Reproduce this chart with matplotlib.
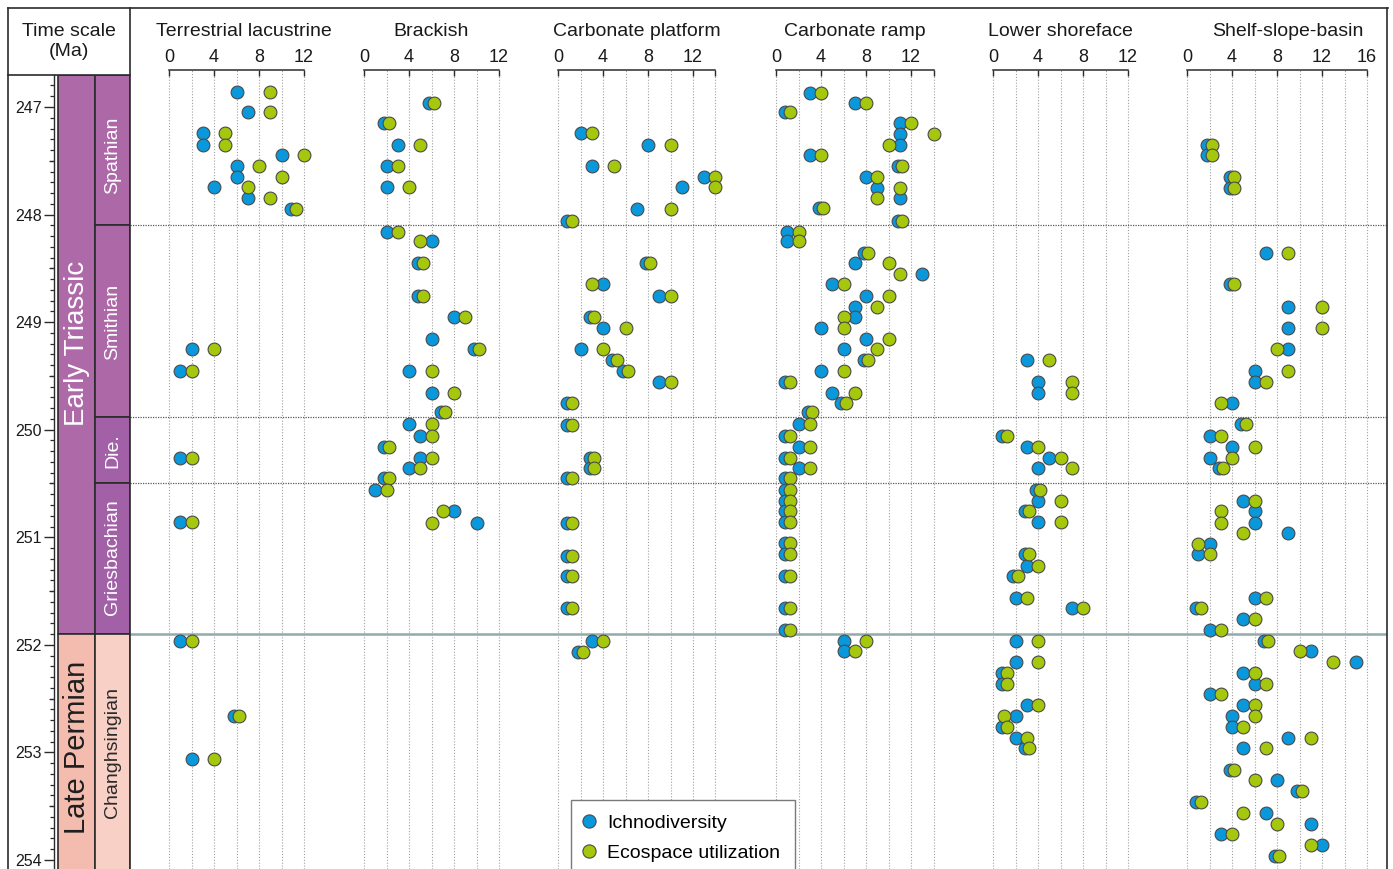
import numpy as np
import matplotlib
matplotlib.use("Agg")
import matplotlib.pyplot as plt
import matplotlib.transforms as mtransforms
from matplotlib.patches import Rectangle
from matplotlib.lines import Line2D
from matplotlib.ticker import MultipleLocator, FixedLocator, FixedFormatter

plt.rcParams['font.family'] = ['Liberation Sans', 'DejaVu Sans']

nan = np.nan

# ---------------- data: age (Ma), ichnodiversity, ecospace utilization ----------------
TERR_AGE = [246.86, 247.05, 247.24, 247.35, 247.45, 247.55, 247.65, 247.74, 247.85, 247.95,
            249.25, 249.45, 250.26, 250.86, 251.96, 252.66, 253.06]
TERR_ICH = [6, 7, 3, 3, 10, 6, 6, 4, 7, 10.8, 2, 1, 1, 1, 1, 5.8, 2]
TERR_ECO = [9, 9, 5, 5, 12, 8, 10, 7, 9, 11.3, 4, 2, 2, 2, 2, 6.2, 4]

BRAC_AGE = [246.96, 247.15, 247.35, 247.55, 247.74, 248.16, 248.25, 248.45, 248.76, 248.95,
            249.16, 249.25, 249.45, 249.66, 249.84, 249.95, 250.06, 250.16, 250.26, 250.36,
            250.45, 250.56, 250.76, 250.87]
BRAC_ICH = [5.8, 1.8, 3, 2, 2, 2, 6, 4.8, 4.8, 8, 6, 9.8, 4, 6, 6.8, 4, 5, 1.8, 5, 4,
            1.8, 1, 8, 10]
BRAC_ECO = [6.2, 2.2, 5, 3, 4, 3, 5, 5.2, 5.2, 9, nan, 10.2, 6, 8, 7.2, 6, 6, 2.2, 6, 5,
            2.2, 2, 7, 6]

PLAT_AGE = [247.24, 247.35, 247.55, 247.65, 247.74, 247.95, 248.06, 248.45, 248.65, 248.76,
            248.95, 249.05, 249.25, 249.35, 249.45, 249.56, 249.75, 249.96, 250.26, 250.36,
            250.45, 250.87, 251.17, 251.36, 251.66, 251.96, 252.07]
PLAT_ICH = [2, 8, 3, 13, 11, 7, 0.8, 7.8, 4, 9, 2.8, 4, 2, 4.8, 5.8, 9, 0.8, 0.8, 2.8, 2.8,
            0.8, 0.8, 0.8, 0.8, 0.8, 3, 1.8]
PLAT_ECO = [3, 10, 5, 14, 14, 10, 1.2, 8.2, 3, 10, 3.2, 6, 4, 5.2, 6.2, 10, 1.2, 1.2, 3.2, 3.2,
            1.2, 1.2, 1.2, 1.2, 1.2, 4, 2.2]

RAMP_AGE = [246.87, 246.96, 247.05, 247.15, 247.25, 247.35, 247.45, 247.55, 247.65, 247.75,
            247.85, 247.94, 248.06, 248.16, 248.25, 248.36, 248.45, 248.55, 248.65, 248.76,
            248.86, 248.95, 249.05, 249.16, 249.25, 249.35, 249.45, 249.56, 249.66, 249.75,
            249.84, 249.95, 250.06, 250.16, 250.26, 250.36, 250.45, 250.56, 250.66, 250.76,
            250.86, 251.05, 251.16, 251.36, 251.66, 251.86, 251.96, 252.06]
RAMP_ICH = [3, 7, 0.8, 11, 11, 11, 3, 10.8, 8, 9,
            11, 3.8, 10.8, 1, 1, 7.8, 7, 13, 5, 8,
            7, 7, 4, 8, 6, 7.8, 4, 0.8, 5, 5.8,
            2.8, 2, 0.8, 2, 0.8, 2, 0.8, 0.8, 0.8, 0.8,
            0.8, 0.8, 0.8, 0.8, 0.8, 0.8, 6, 6]
RAMP_ECO = [4, 8, 1.2, 12, 14, 10, 4, 11.2, 9, 11,
            9, 4.2, 11.2, 2, 2, 8.2, 10, 11, 6, 10,
            9, 6, 6, 10, 9, 8.2, 6, 1.2, 7, 6.2,
            3.2, 3, 1.2, 3, 1.2, 3, 1.2, 1.2, 1.2, 1.2,
            1.2, 1.2, 1.2, 1.2, 1.2, 1.2, 8, 7]

SHOR_AGE = [249.35, 249.56, 249.66, 250.06, 250.16, 250.26, 250.36, 250.56, 250.66, 250.76,
            250.86, 251.16, 251.27, 251.36, 251.56, 251.66, 251.96, 252.16, 252.26, 252.36,
            252.56, 252.66, 252.76, 252.87, 252.96]
SHOR_ICH = [3, 4, 4, 0.8, 3, 5, 4, 3.8, 4, 2.8, 4, 2.8, 3, 1.8, 2, 7, 2, 2, 0.8, 0.8,
            3, 2, 0.8, 2, 2.8]
SHOR_ECO = [5, 7, 7, 1.2, 4, 6, 7, 4.2, 6, 3.2, 6, 3.2, 4, 2.2, 3, 8, 4, 4, 1.2, 1.2,
            4, 1, 1.2, 3, 3.2]

SHEL_AGE = [247.35, 247.45, 247.65, 247.75, 248.36, 248.65, 248.86, 249.05, 249.25, 249.45,
            249.56, 249.75, 249.95, 250.06, 250.16, 250.26, 250.36, 250.66, 250.76, 250.87,
            250.96, 251.06, 251.16, 251.56, 251.66, 251.76, 251.86, 251.96, 252.06, 252.16,
            252.26, 252.36, 252.46, 252.56, 252.66, 252.76, 252.87, 252.96, 253.16, 253.26,
            253.36, 253.46, 253.56, 253.67, 253.76, 253.86, 253.96]
SHEL_ICH = [1.8, 1.8, 3.8, 3.8, 7, 3.8, 9, 9, 9, 6,
            6, 4, 4.8, 2, 4, 2, 2.8, 5, 6, 6,
            9, 2, 1, 6, 0.8, 5, 2, 6.8, 11, 15,
            5, 6, 2, 5, 4, 4, 9, 5, 3.8, 8,
            9.8, 0.8, 7, 11, 3, 12, 7.8]
SHEL_ECO = [2.2, 2.2, 4.2, 4.2, 9, 4.2, 12, 12, 8, 9,
            7, 3, 5.2, 3, 6, 4, 3.2, 6, 3, 3,
            5, 1, 2, 7, 1.2, 6, 3, 7.2, 10, 13,
            6, 7, 3, 6, 6, 5, 11, 7, 4.2, 6,
            10.2, 1.2, 5, 8, 4, 11, 8.2]

PANEL_TITLES = ["Terrestrial lacustrine", "Brackish", "Carbonate platform",
                "Carbonate ramp", "Lower shoreface", "Shelf-slope-basin"]
PANEL_XMAX = [12, 12, 14, 14, 12, 16]

STAGE_NAMES = ["Spathian", "Smithian", "Die.", "Griesbachian", "Changhsingian"]
STAGE_BASES = [248.1, 249.88, 250.5, 251.9, 254.3]
ERA_NAMES = ["Early Triassic", "Late Permian"]
ERA_BASES = [251.9, 254.3]
MAJOR_AGES = [247, 248, 249, 250, 251, 252, 253, 254]

# ---------------- layout ----------------
W, H = 1393, 869
fig = plt.figure(figsize=(W / 100, H / 100), dpi=100)


def fx(px):
    return px / W


def fy(py):
    return 1 - py / H


PX_PER_UNIT = 11.25
AX_TOP_PX = 70
Y_SCALE = 107.57          # pixels per Myr
Y_REF_PX, Y_REF = 107, 247.0


def age_at(py):
    return Y_REF + (py - Y_REF_PX) / Y_SCALE


Y_TOP, Y_BOT = age_at(AX_TOP_PX), age_at(H)

BLUE = "#0a98dc"
GREEN = "#a5c70c"
EDGE = "#4a4a4a"
DARK = "#2b2b2b"

panel_edges = [130, 340, 535, 750, 960, 1160, 1387]
panel_zero = [169, 364, 558, 776, 993, 1187]
title_x = [6.7, 6.0, 7.0, 7.0, 6.0, 9.0]

panel_data = [(TERR_AGE, TERR_ICH, TERR_ECO), (BRAC_AGE, BRAC_ICH, BRAC_ECO),
              (PLAT_AGE, PLAT_ICH, PLAT_ECO), (RAMP_AGE, RAMP_ICH, RAMP_ECO),
              (SHOR_AGE, SHOR_ICH, SHOR_ECO), (SHEL_AGE, SHEL_ICH, SHEL_ECO)]

boundaries_dotted = STAGE_BASES[:3]
pt_boundary = STAGE_BASES[3]

for i in range(6):
    L, R = panel_edges[i], panel_edges[i + 1]
    x0 = panel_zero[i]
    ax = fig.add_axes([fx(L), 0, (R - L) / W, (H - AX_TOP_PX) / H])
    ax.set_xlim((L - x0) / PX_PER_UNIT, (R - x0) / PX_PER_UNIT)
    ax.set_ylim(Y_BOT, Y_TOP)
    ax.patch.set_alpha(0)
    for s in ("left", "right", "bottom"):
        ax.spines[s].set_visible(False)
    xmax = PANEL_XMAX[i]
    ax.spines["top"].set_bounds(0, xmax)
    ax.spines["top"].set_color(DARK)
    ax.spines["top"].set_linewidth(1.1)
    ax.xaxis.set_ticks_position("top")
    ticks = list(range(0, xmax + 1, 4))
    labels = [str(t) for t in ticks]
    if xmax not in ticks:
        ticks.append(xmax)
        labels.append("")
    ax.xaxis.set_major_locator(FixedLocator(ticks))
    ax.xaxis.set_major_formatter(FixedFormatter(labels))
    ax.tick_params(axis="x", direction="in", length=4, width=1.0, color=DARK,
                   labelsize=13, pad=3, labelcolor="#1a1a1a")
    ax.set_yticks([])

    for v in range(0, xmax + 1, 2):
        ax.axvline(v, color="#a0a0a0", lw=0.8, ls=(0, (1, 1.6)), zorder=1)
    for b in boundaries_dotted:
        ax.axhline(b, color="#5a5a5a", lw=0.9, ls=(0, (1, 1)), zorder=1)
    ax.axhline(pt_boundary, color="#8fabab", lw=1.8, zorder=1)

    age, ich, eco = panel_data[i]
    ax.scatter(ich, age, s=85, c=BLUE, edgecolors=EDGE, linewidths=0.8, zorder=3, clip_on=False)
    ax.scatter(eco, age, s=85, c=GREEN, edgecolors=EDGE, linewidths=0.8, zorder=4, clip_on=False)

    title_tr = mtransforms.blended_transform_factory(ax.transData, fig.transFigure)
    ax.text(title_x[i], fy(32), PANEL_TITLES[i], ha="center", va="center", fontsize=14,
            color="#1a1a1a", transform=title_tr)

# ---------------- time-scale column ----------------
COL_TOP_PX = 75
axt = fig.add_axes([fx(8), 0, (130 - 8) / W, (H - COL_TOP_PX) / H])
axt.set_xlim(8, 130)
t_top = age_at(COL_TOP_PX)
axt.set_ylim(Y_BOT, t_top)
axt.patch.set_alpha(0)
for s in ("top", "right", "bottom"):
    axt.spines[s].set_visible(False)
axt.spines["left"].set_position(("data", 54))
axt.spines["left"].set_color(DARK)
axt.spines["left"].set_linewidth(1.0)
axt.set_xticks([])
axt.yaxis.set_major_locator(FixedLocator(MAJOR_AGES))
axt.yaxis.set_minor_locator(MultipleLocator(0.1))
axt.tick_params(axis="y", which="major", length=7.2, width=1.0, color=DARK,
                labelsize=11.5, pad=1.5, labelcolor="#1a1a1a")
axt.tick_params(axis="y", which="minor", length=3.0, width=0.9, color=DARK)
half_ages = np.arange(247.5, 254.0, 1.0)
axt.hlines(half_ages, 49, 54, color=DARK, lw=0.9, zorder=2)

ERA_COLORS = ["#ae6aa8", "#f4bcae"]
STAGE_COLORS = ["#ad68a8", "#ad68a8", "#a260a6", "#a260a6", "#f8d0c5"]
prev = t_top
for name, base, col in zip(ERA_NAMES, ERA_BASES, ERA_COLORS):
    axt.add_patch(Rectangle((58, prev), 37, base - prev, facecolor=col,
                            edgecolor=DARK, lw=1.2, zorder=1))
    prev = base
prev = t_top
for name, base, col in zip(STAGE_NAMES, STAGE_BASES, STAGE_COLORS):
    axt.add_patch(Rectangle((95, prev), 35, base - prev, facecolor=col,
                            edgecolor=DARK, lw=1.2, zorder=1))
    prev = base

axt.text(77, 249.2, "Early Triassic", rotation=90, ha="center", va="center",
         fontsize=20, color="white")
axt.text(77, 252.95, "Late Permian", rotation=90, ha="center", va="center",
         fontsize=21, color="#1e1e1e")
stage_centres = [247.45, 249.0, 250.19, 251.18, 253.0]
stage_text_col = ["white", "white", "white", "white", "#2a2a2a"]
for name, yc, tc in zip(STAGE_NAMES, stage_centres, stage_text_col):
    axt.text(112.5, yc, name, rotation=90, ha="center", va="center",
             fontsize=14, color=tc)

# header
fig.text(fx(69), fy(32), "Time scale", ha="center", va="center", fontsize=14, color="#1a1a1a")
fig.text(fx(69), fy(52), "(Ma)", ha="center", va="center", fontsize=14, color="#1a1a1a")

# frame lines
frame = [((8, 1388), (8, 8)), ((8, 8), (8, H)), ((1387, 1387), (8, H)),
         ((130, 130), (8, H)), ((8, 130), (75, 75))]
for (xa, xb), (ya, yb) in frame:
    fig.add_artist(Line2D([fx(xa), fx(xb)], [fy(ya), fy(yb)], color=DARK, lw=1.2,
                          transform=fig.transFigure))

# legend
handles = [Line2D([], [], marker="o", ls="none", ms=9.5, mfc=BLUE, mec=EDGE, mew=0.8,
                  label="Ichnodiversity"),
           Line2D([], [], marker="o", ls="none", ms=9.5, mfc=GREEN, mec=EDGE, mew=0.8,
                  label="Ecospace utilization")]
leg = fig.legend(handles=handles, loc="upper left", bbox_to_anchor=(fx(571), fy(800)),
                 frameon=True, fancybox=False, edgecolor="#7a7a7a", framealpha=1,
                 fontsize=14, borderpad=0.75, handlelength=0.3, handletextpad=0.8,
                 labelspacing=0.62, borderaxespad=0)
leg.get_frame().set_linewidth(1.0)

fig.savefig("out.png", dpi=100)
